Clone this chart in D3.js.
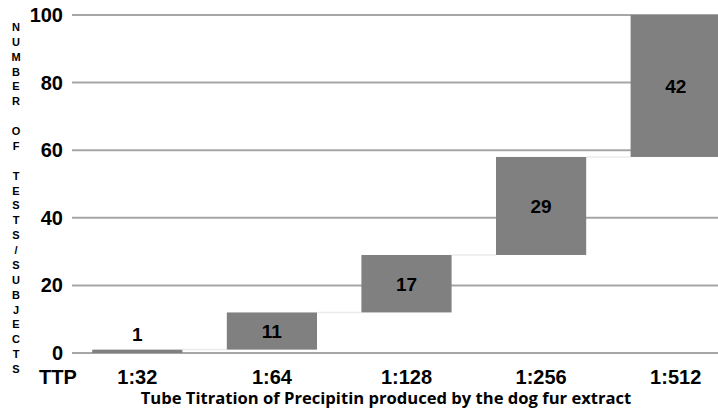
<!DOCTYPE html>
<html>
<head>
<meta charset="utf-8">
<script src="https://cdn.jsdelivr.net/npm/d3@7"></script>
<style>
  body { margin: 0; background: #fff; }
  svg text { font-family: "Liberation Sans", Arial, sans-serif; font-weight: bold; }
</style>
</head>
<body>
<div class="svg-wrapper"></div>
<script>
// data
var categories = ["1:32", "1:64", "1:128", "1:256", "1:512"];
var values     = [1, 11, 17, 29, 42];
var yTicks     = [0, 20, 40, 60, 80, 100];
var yTitle     = "NUMBER OF TESTS/SUBJECTS";
var xTitle     = "Tube Titration of Precipitin produced by the dog fur extract";
var xPrefix    = "TTP";

var width = 718, height = 410;

var svg = d3.select(".svg-wrapper").append("svg")
  .attr("width", width)
  .attr("height", height);

// running totals for waterfall
var steps = [], total = 0;
values.forEach(function (v, i) {
  steps.push({ cat: categories[i], v: v, start: total, end: total + v });
  total += v;
});

var x = d3.scaleBand().domain(categories).range([70, 743]).paddingInner(0.33).paddingOuter(0.165);
var y = d3.scaleLinear().domain([0, 100]).range([353, 15]);

// gridlines
svg.append("g").selectAll("line")
  .data(yTicks)
  .enter().append("line")
  .attr("x1", 72).attr("x2", width)
  .attr("y1", function (d) { return y(d); })
  .attr("y2", function (d) { return y(d); })
  .attr("stroke", "#a6a6a6")
  .attr("stroke-width", 2);

// tick labels
svg.append("g").selectAll("text")
  .data(yTicks)
  .enter().append("text")
  .attr("x", 63)
  .attr("y", function (d) { return y(d) + 7; })
  .attr("text-anchor", "end")
  .attr("font-size", 20)
  .attr("fill", "#000")
  .text(function (d) { return d; });

// connectors
svg.append("g").selectAll("line")
  .data(steps.slice(0, -1))
  .enter().append("line")
  .attr("x1", function (d) { return x(d.cat) + x.bandwidth(); })
  .attr("x2", function (d, i) { return x(categories[i + 1]); })
  .attr("y1", function (d) { return y(d.end); })
  .attr("y2", function (d) { return y(d.end); })
  .attr("stroke", "#ebebeb")
  .attr("stroke-width", 1.5);

// bars
svg.append("g").selectAll("rect")
  .data(steps)
  .enter().append("rect")
  .attr("x", function (d) { return x(d.cat); })
  .attr("width", x.bandwidth())
  .attr("y", function (d) { return y(d.end); })
  .attr("height", function (d) { return y(d.start) - y(d.end); })
  .attr("fill", "#808080");

// value labels
svg.append("g").selectAll("text")
  .data(steps)
  .enter().append("text")
  .attr("x", function (d) { return x(d.cat) + x.bandwidth() / 2; })
  .attr("y", function (d) {
    var h = y(d.start) - y(d.end);
    return h < 25 ? y(d.end) - 9 : (y(d.start) + y(d.end)) / 2 + 7;
  })
  .attr("text-anchor", "middle")
  .attr("font-size", 19)
  .attr("fill", "#000")
  .text(function (d) { return d.v; });

// category labels
svg.append("g").selectAll("text")
  .data(categories)
  .enter().append("text")
  .attr("x", function (d) { return x(d) + x.bandwidth() / 2; })
  .attr("y", 384)
  .attr("text-anchor", "middle")
  .attr("font-size", 20)
  .attr("fill", "#000")
  .text(function (d) { return d; });

svg.append("text")
  .attr("x", 58).attr("y", 384)
  .attr("text-anchor", "middle")
  .attr("font-size", 20)
  .attr("fill", "#000")
  .text(xPrefix);

// x title
svg.append("text")
  .attr("x", 386).attr("y", 404)
  .attr("text-anchor", "middle")
  .attr("font-size", 16.6)
  .attr("fill", "#000")
  .style("font-family", "'Open Sans', Lato, sans-serif")
  .text(xTitle);

// stacked y title
svg.append("g").selectAll("text")
  .data(yTitle.split(""))
  .enter().append("text")
  .attr("x", 16)
  .attr("y", function (d, i) { return 31 + i * 14.87; })
  .attr("text-anchor", "middle")
  .attr("font-size", 11)
  .attr("fill", "#000")
  .text(function (d) { return d; });
</script>
</body>
</html>
